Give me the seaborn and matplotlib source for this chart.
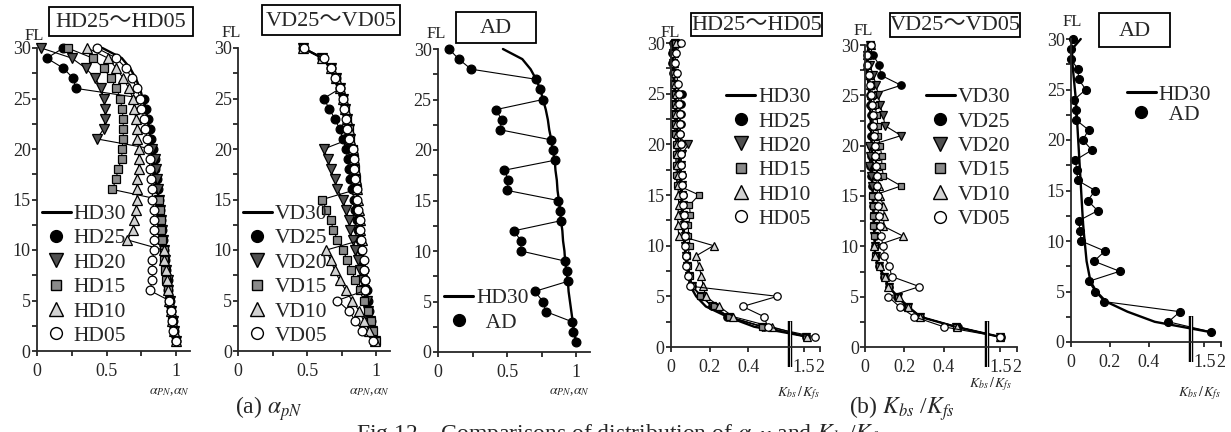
import numpy as np
import pandas as pd
import matplotlib
matplotlib.use("Agg")
import matplotlib.pyplot as plt
from matplotlib.lines import Line2D
from matplotlib.patches import Rectangle
import seaborn as sns

# ---------------- data ----------------
FLOORS = list(range(30, 0, -1))  # 30 ... 1

# (a) alpha_pN
HD30_A = [0.47, 0.61, 0.67, 0.71, 0.74, 0.76, 0.78, 0.795, 0.805, 0.82, 0.83, 0.845, 0.85, 0.86, 0.865,
          0.875, 0.885, 0.89, 0.90, 0.905, 0.915, 0.92, 0.93, 0.94, 0.945, 0.955, 0.965, 0.975, 0.985, 1.0]
HD25_A = [0.19, 0.07, 0.19, 0.26, 0.28, 0.77, 0.785, 0.80, 0.81, 0.82, 0.835, 0.845, 0.85, 0.86, 0.87,
          0.875, 0.885, 0.89, 0.90, 0.905, 0.915, 0.92, 0.93, 0.94, 0.945, 0.955, 0.965, 0.975, 0.985, 1.0]
HD20_A = [0.03, 0.25, 0.35, 0.42, 0.46, 0.48, 0.49, 0.49, 0.48, 0.43, 0.83, 0.845, 0.855, 0.86, 0.87,
          0.875, 0.885, 0.89, 0.90, 0.905, 0.915, 0.92, 0.93, 0.94, 0.945, 0.955, 0.965, 0.975, 0.985, 1.0]
HD15_A = [0.22, 0.40, 0.48, 0.53, 0.57, 0.60, 0.61, 0.62, 0.62, 0.62, 0.61, 0.61, 0.58, 0.57, 0.54,
          0.88, 0.885, 0.89, 0.895, 0.90, 0.91, 0.915, 0.92, 0.93, 0.94, 0.95, 0.96, 0.97, 0.985, 1.0]
HD10_A = [0.36, 0.51, 0.57, 0.62, 0.66, 0.69, 0.70, 0.71, 0.72, 0.72, 0.73, 0.73, 0.73, 0.72, 0.72,
          0.72, 0.71, 0.70, 0.69, 0.65, 0.91, 0.915, 0.925, 0.935, 0.94, 0.95, 0.96, 0.97, 0.985, 1.0]
HD05_A = [0.43, 0.57, 0.64, 0.68, 0.72, 0.74, 0.75, 0.77, 0.78, 0.79, 0.80, 0.81, 0.81, 0.82, 0.83,
          0.83, 0.84, 0.84, 0.84, 0.84, 0.84, 0.83, 0.83, 0.83, 0.81, 0.95, 0.96, 0.97, 0.98, 1.0]

VD30_A = [0.47, 0.61, 0.67, 0.71, 0.74, 0.76, 0.775, 0.79, 0.80, 0.81, 0.83, 0.84, 0.845, 0.855, 0.86,
          0.865, 0.875, 0.88, 0.885, 0.895, 0.90, 0.91, 0.915, 0.92, 0.93, 0.94, 0.95, 0.96, 0.975, 0.99]
VD25_A = [0.47, 0.61, 0.67, 0.71, 0.74, 0.62, 0.66, 0.70, 0.735, 0.76, 0.78, 0.795, 0.80, 0.81, 0.825,
          0.84, 0.85, 0.86, 0.87, 0.88, 0.89, 0.90, 0.91, 0.92, 0.93, 0.94, 0.95, 0.96, 0.97, 0.99]
VD20_A = [0.47, 0.61, 0.67, 0.71, 0.74, 0.76, 0.775, 0.79, 0.80, 0.81, 0.62, 0.65, 0.67, 0.70, 0.72,
          0.76, 0.78, 0.80, 0.81, 0.83, 0.85, 0.87, 0.88, 0.90, 0.91, 0.93, 0.94, 0.955, 0.97, 0.99]
VD15_A = [0.47, 0.61, 0.67, 0.71, 0.74, 0.76, 0.775, 0.79, 0.80, 0.81, 0.83, 0.84, 0.845, 0.855, 0.86,
          0.61, 0.64, 0.67, 0.69, 0.72, 0.76, 0.79, 0.82, 0.85, 0.88, 0.91, 0.94, 0.96, 0.975, 1.0]
VD10_A = [0.47, 0.61, 0.67, 0.71, 0.74, 0.76, 0.775, 0.79, 0.80, 0.81, 0.83, 0.84, 0.845, 0.855, 0.86,
          0.865, 0.875, 0.88, 0.885, 0.895, 0.64, 0.67, 0.70, 0.735, 0.78, 0.825, 0.875, 0.91, 0.95, 0.99]
VD05_A = [0.48, 0.62, 0.67, 0.70, 0.74, 0.76, 0.77, 0.78, 0.79, 0.80, 0.83, 0.84, 0.84, 0.85, 0.86,
          0.86, 0.87, 0.88, 0.88, 0.89, 0.90, 0.91, 0.91, 0.92, 0.92, 0.72, 0.80, 0.85, 0.90, 0.98]

AD_A = [0.08, 0.15, 0.24, 0.71, 0.74, 0.76, 0.42, 0.46, 0.45, 0.82, 0.83, 0.85, 0.48, 0.51, 0.50,
        0.87, 0.88, 0.89, 0.55, 0.60, 0.60, 0.92, 0.93, 0.94, 0.70, 0.76, 0.78, 0.97, 0.98, 1.0]

# (b) Kbs/Kfs
HD30_B = [0.05, 0.005, 0.006, 0.01, 0.015, 0.02, 0.025, 0.028, 0.031, 0.034, 0.037, 0.04, 0.043, 0.046, 0.049,
          0.052, 0.055, 0.058, 0.061, 0.065, 0.07, 0.075, 0.08, 0.09, 0.10, 0.13, 0.18, 0.29, 0.43, 1.65]
HD25_B = [0.01, 0.005, 0.005, 0.01, 0.015, 0.055, 0.05, 0.05, 0.05, 0.048, 0.05, 0.05, 0.052, 0.055, 0.058,
          0.06, 0.062, 0.065, 0.068, 0.072, 0.076, 0.08, 0.085, 0.093, 0.11, 0.16, 0.21, 0.29, 0.48, 1.57]
HD20_B = [0.02, 0.01, 0.01, 0.015, 0.015, 0.02, 0.02, 0.02, 0.02, 0.02, 0.09, 0.056, 0.05, 0.052, 0.055,
          0.058, 0.06, 0.063, 0.066, 0.07, 0.074, 0.078, 0.085, 0.095, 0.11, 0.16, 0.21, 0.30, 0.47, 1.58]
HD15_B = [0.02, 0.01, 0.01, 0.015, 0.015, 0.02, 0.02, 0.02, 0.02, 0.022, 0.025, 0.025, 0.025, 0.028, 0.03,
          0.145, 0.095, 0.10, 0.09, 0.09, 0.10, 0.085, 0.09, 0.10, 0.11, 0.15, 0.22, 0.30, 0.47, 1.58]
HD10_B = [0.025, 0.015, 0.015, 0.02, 0.02, 0.025, 0.025, 0.025, 0.025, 0.03, 0.03, 0.03, 0.032, 0.034, 0.036,
          0.038, 0.04, 0.035, 0.035, 0.04, 0.22, 0.13, 0.144, 0.157, 0.166, 0.18, 0.25, 0.32, 0.52, 1.62]
HD05_B = [0.052, 0.025, 0.02, 0.03, 0.035, 0.04, 0.04, 0.045, 0.045, 0.045, 0.05, 0.05, 0.05, 0.055, 0.055,
          0.06, 0.06, 0.065, 0.065, 0.07, 0.07, 0.075, 0.08, 0.09, 0.10, 0.55, 0.37, 0.48, 0.50, 1.85]

VD30_B = [0.02, 0.01, 0.008, 0.012, 0.018, 0.022, 0.025, 0.028, 0.03, 0.032, 0.034, 0.035, 0.036, 0.037, 0.038,
          0.04, 0.042, 0.044, 0.046, 0.048, 0.05, 0.05, 0.07, 0.095, 0.12, 0.165, 0.22, 0.28, 0.46, 1.5]
VD25_B = [0.025, 0.04, 0.073, 0.08, 0.183, 0.025, 0.027, 0.03, 0.03, 0.03, 0.032, 0.03, 0.025, 0.03, 0.035,
          0.04, 0.042, 0.045, 0.048, 0.05, 0.052, 0.055, 0.072, 0.097, 0.12, 0.16, 0.21, 0.28, 0.47, 1.52]
VD20_B = [0.025, 0.008, 0.025, 0.042, 0.056, 0.068, 0.076, 0.093, 0.10, 0.183, 0.02, 0.025, 0.02, 0.03, 0.035,
          0.04, 0.042, 0.044, 0.046, 0.048, 0.05, 0.055, 0.07, 0.095, 0.12, 0.165, 0.22, 0.28, 0.46, 1.5]
VD15_B = [0.03, 0.01, 0.01, 0.02, 0.03, 0.04, 0.05, 0.06, 0.065, 0.068, 0.076, 0.085, 0.085, 0.093, 0.183,
          0.034, 0.04, 0.04, 0.042, 0.045, 0.05, 0.05, 0.07, 0.095, 0.12, 0.165, 0.22, 0.28, 0.46, 1.52]
VD10_B = [0.03, 0.01, 0.01, 0.02, 0.025, 0.03, 0.035, 0.04, 0.04, 0.045, 0.05, 0.055, 0.06, 0.065, 0.07,
          0.076, 0.093, 0.098, 0.093, 0.195, 0.046, 0.05, 0.076, 0.10, 0.118, 0.17, 0.22, 0.28, 0.465, 1.5]
VD05_B = [0.03, 0.01, 0.01, 0.02, 0.025, 0.03, 0.035, 0.04, 0.04, 0.045, 0.05, 0.05, 0.055, 0.06, 0.06,
          0.065, 0.065, 0.07, 0.075, 0.08, 0.093, 0.098, 0.124, 0.135, 0.276, 0.118, 0.175, 0.25, 0.40, 1.5]

AD_B = [0.01, 0.0, 0.0, 0.036, 0.039, 0.076, 0.017, 0.025, 0.025, 0.09, 0.061, 0.107, 0.022, 0.03, 0.034,
        0.124, 0.086, 0.137, 0.039, 0.047, 0.052, 0.174, 0.118, 0.25, 0.09, 0.124, 0.17, 0.56, 0.50, 1.7]

A_TICKS = [0, 0.5, 1]
A_TICK_LABELS = ["0", "0.5", "1"]
B_TICKS = [0, 0.2, 0.4, 1.5, 2]
B_TICK_LABELS = ["0", "0.2", "0.4", "1.5", "2"]
Y_TICKS = [0, 5, 10, 15, 20, 25, 30]

HD_LABELS = ["HD30", "HD25", "HD20", "HD15", "HD10", "HD05"]
VD_LABELS = ["VD30", "VD25", "VD20", "VD15", "VD10", "VD05"]

# ---------------- style ----------------
sns.set_style("ticks")
plt.rcParams["font.family"] = ["Liberation Serif", "Noto Sans CJK JP"]
plt.rcParams["mathtext.fontset"] = "stix"
plt.rcParams["axes.linewidth"] = 1.3

W, H = 1231, 432
fig = plt.figure(figsize=(W / 100, H / 100), dpi=100)


def add_ax(l, r, t, b):
    return fig.add_axes([l / W, 1 - b / H, (r - l) / W, (b - t) / H])


def ftext(x, y, s, **kw):
    fig.text(x / W, 1 - y / H, s, **kw)


MARK = {
    0: dict(marker=None),
    1: dict(marker="o", face="black"),
    2: dict(marker="v", face="#505050"),
    3: dict(marker="s", face="#8a8a8a"),
    4: dict(marker="^", face="#d2d2d2"),
    5: dict(marker="o", face="white"),
}
MS = {"o": 6.3, "v": 7.0, "s": 5.8, "^": 7.0}


def draw(ax, vals, style, scale=1.0):
    df = pd.DataFrame({"val": vals, "floor": FLOORS})
    m = MARK[style]
    if m["marker"] is None:
        sns.lineplot(data=df, x="val", y="floor", sort=False, estimator=None, color="black",
                     lw=1.7, ax=ax, legend=False, clip_on=False)
    else:
        sns.lineplot(data=df, x="val", y="floor", sort=False, estimator=None, color="black",
                     lw=0.8, marker=m["marker"], markersize=MS[m["marker"]] * scale,
                     markerfacecolor=m["face"], markeredgecolor="black", markeredgewidth=0.9,
                     ax=ax, legend=False, clip_on=False)


def legend_handles(styles):
    hs = []
    for s in styles:
        m = MARK[s]
        if m["marker"] is None:
            hs.append(Line2D([], [], color="black", lw=2.2))
        else:
            hs.append(Line2D([], [], ls="none", marker=m["marker"], markersize=MS[m["marker"]] * 1.35,
                             markerfacecolor=m["face"], markeredgecolor="black", markeredgewidth=1.0))
    return hs


def fwd(x):
    x = np.asarray(x, dtype=float)
    return np.where(x <= 0.6, x, np.where(x < 1.1, 0.6 + (x - 0.6) * 0.034, 0.617 + (x - 1.1) * 0.17))


def inv(y):
    y = np.asarray(y, dtype=float)
    return np.where(y <= 0.6, y, np.where(y < 0.617, 0.6 + (y - 0.6) / 0.034, 1.1 + (y - 0.617) / 0.17))


def finish(ax, kind):
    ax.set_xlabel("")
    ax.set_ylabel("")
    ax.set_ylim(0, 30)
    ax.set_yticks(Y_TICKS)
    ax.set_yticks([2.5, 7.5, 12.5, 17.5, 22.5, 27.5], minor=True)
    if kind == "a":
        ax.set_xlim(0, 1.1)
        ax.set_xticks(A_TICKS, labels=A_TICK_LABELS)
        ax.set_xticks([0.25, 0.75], minor=True)
    else:
        ax.set_xscale("function", functions=(fwd, inv))
        ax.set_xlim(0, 2.0)
        ax.set_xticks(B_TICKS, labels=B_TICK_LABELS)
        ax.set_xticks([], minor=True)
        # axis-break mark at the compressed part of the scale
        ax.plot([1.1, 1.1], [-2.0, 2.6], color="black", lw=3.2, clip_on=False, solid_capstyle="butt")
        ax.plot([1.1, 1.1], [-2.0, 2.6], color="white", lw=0.6, clip_on=False, solid_capstyle="butt")
    sns.despine(ax=ax)
    ax.tick_params(which="both", direction="out", length=3.5, width=1.1, color="black")
    ax.tick_params(axis="y", which="both", pad=1, labelsize=13)
    ax.tick_params(axis="x", which="both", pad=5, labelsize=13)
    ax.patch.set_alpha(0)


def title_box(x0, x1, y0, y1, text, fs=16):
    fig.patches.append(Rectangle((x0 / W, 1 - y1 / H), (x1 - x0) / W, (y1 - y0) / H,
                                 transform=fig.transFigure, facecolor="white", edgecolor="black", lw=1.3))
    ftext((x0 + x1) / 2, (y0 + y1) / 2 + 1, text, ha="center", va="center", fontsize=fs)


LEG_KW = dict(frameon=False, handlelength=1.35, handletextpad=0.15, labelspacing=0.2,
              borderpad=0, borderaxespad=0, fontsize=15.5, loc="upper left")

# ---------------- panel (a) HD ----------------
ax1 = add_ax(37, 190, 48, 351)
for vals, st in zip([HD30_A, HD25_A, HD20_A, HD15_A, HD10_A, HD05_A], range(6)):
    draw(ax1, vals, st)
finish(ax1, "a")
ax1.legend(legend_handles(range(6)), HD_LABELS, bbox_to_anchor=(0.03, 0.485), **LEG_KW)

# ---------------- panel (a) VD ----------------
ax2 = add_ax(238, 390, 48, 351)
for vals, st in zip([VD30_A, VD25_A, VD20_A, VD15_A, VD10_A, VD05_A], range(6)):
    draw(ax2, vals, st)
finish(ax2, "a")
ax2.legend(legend_handles(range(6)), VD_LABELS, bbox_to_anchor=(0.03, 0.485), **LEG_KW)

# ---------------- panel (a) AD ----------------
ax3 = add_ax(438, 590, 49, 352)
draw(ax3, HD30_A, 0)
draw(ax3, AD_A, 1)
finish(ax3, "a")
ax3.legend(legend_handles([0, 1]), ["HD30", "  AD"], bbox_to_anchor=(0.04, 0.21), **LEG_KW)

# ---------------- panel (b) HD ----------------
ax4 = add_ax(671, 820, 43, 347)
for vals, st in zip([HD30_B, HD25_B, HD20_B, HD15_B, HD10_B, HD05_B], range(6)):
    draw(ax4, vals, st, scale=0.85)
finish(ax4, "b")
ax4.legend(legend_handles(range(6)), HD_LABELS, bbox_to_anchor=(0.37, 0.855), **LEG_KW)

# ---------------- panel (b) VD ----------------
ax5 = add_ax(865, 1017, 45, 347)
for vals, st in zip([VD30_B, VD25_B, VD20_B, VD15_B, VD10_B, VD05_B], range(6)):
    draw(ax5, vals, st, scale=0.85)
finish(ax5, "b")
ax5.legend(legend_handles(range(6)), VD_LABELS, bbox_to_anchor=(0.40, 0.86), **LEG_KW)

# ---------------- panel (b) AD ----------------
ax6 = add_ax(1071, 1221, 39, 342)
draw(ax6, HD30_B, 0)
draw(ax6, AD_B, 1, scale=0.9)
finish(ax6, "b")
leg6 = dict(LEG_KW)
leg6["labelspacing"] = 0.0
ax6.legend(legend_handles([0, 1]), ["HD30", "  AD"], bbox_to_anchor=(0.37, 0.85), **leg6)

# ---------------- texts ----------------
for (x, y) in [(34, 36), (231, 33), (436, 34), (670, 33), (863, 31), (1072, 22)]:
    ftext(x, y, "FL", ha="center", va="center", fontsize=12)

title_box(49, 193, 7, 36, "HD25～HD05")
title_box(262, 400, 5, 35, "VD25～VD05")
title_box(456, 536, 12, 43, "AD")
title_box(691, 822, 13, 36, "HD25～HD05")
title_box(890, 1020, 13, 37, "VD25～VD05")
title_box(1099, 1170, 13, 47, "AD")

for xr in [190, 390, 590]:
    ftext(xr, 392, r"$\alpha_{PN}$,$\alpha_{N}$", ha="right", va="center", fontsize=10)
for xr, yy in [(820, 393), (1012, 384), (1221, 393)]:
    ftext(xr, yy, r"$K_{bs}\,/\,K_{fs}$", ha="right", va="center", fontsize=10)

ftext(269, 409, r"(a) $\alpha_{pN}$", ha="center", va="center", fontsize=17)
ftext(902, 409, r"(b) $K_{bs}$ /$K_{fs}$", ha="center", va="center", fontsize=17)
ftext(356, 441, r"Fig.12    Comparisons of distribution of $\alpha_{pN}$ and $K_{bs}$/$K_{fs}$",
      ha="left", va="baseline", fontsize=17)

fig.savefig("out.png", dpi=100)
